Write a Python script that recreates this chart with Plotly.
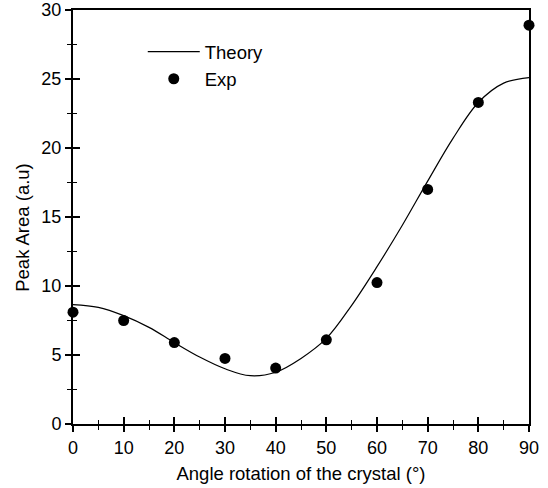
import plotly.graph_objects as go

# Experimental data
exp_angle = [0, 10, 20, 30, 40, 50, 60, 70, 80, 90]
exp_area = [8.1, 7.5, 5.9, 4.75, 4.05, 6.1, 10.25, 17.0, 23.3, 28.9]

# Theory curve
theory_angle = [0, 5, 10, 15, 20, 25, 30, 35, 40, 45, 50, 55, 60, 65, 70, 75, 80, 85, 90]
theory_area = [8.65, 8.45, 7.85, 7.0, 5.9, 4.85, 4.0, 3.5, 3.75, 4.75, 6.2, 8.6, 11.4, 14.4, 17.6, 20.7, 23.3, 24.7, 25.1]

x_ticks = [0, 10, 20, 30, 40, 50, 60, 70, 80, 90]
y_ticks = [0, 5, 10, 15, 20, 25, 30]

FONT = "Liberation Sans, Arial, sans-serif"

fig = go.Figure()
fig.add_trace(go.Scatter(x=theory_angle, y=theory_area, mode="lines", name="Theory",
                         line=dict(color="black", width=1.2, shape="spline", smoothing=1.0)))
fig.add_trace(go.Scatter(x=exp_angle, y=exp_area, mode="markers", name="Exp",
                         marker=dict(color="black", size=11), cliponaxis=False))

axis_common = dict(showgrid=False, zeroline=False, linecolor="black", linewidth=2,
                   tickcolor="black", tickwidth=1.5, ticklen=6, automargin=False,
                   tickfont=dict(family=FONT, size=18, color="black"))

fig.update_layout(
    width=548, height=488,
    margin=dict(l=73, r=19, t=10, b=64),
    paper_bgcolor="white", plot_bgcolor="white",
    font=dict(family=FONT, color="black"),
    showlegend=True,
    legend=dict(x=0.153, y=0.944, xanchor="left", yanchor="top",
                font=dict(family=FONT, size=18.5, color="black"),
                bgcolor="rgba(0,0,0,0)", tracegroupgap=2, itemwidth=52),
    xaxis=dict(range=[0, 90], tickvals=x_ticks, ticks="outside", mirror=True, showline=True,
               minor=dict(dtick=5, ticks="outside", ticklen=4, tickcolor="black", tickwidth=1.2),
               title=dict(text="Angle rotation of the crystal (°)", font=dict(family=FONT, size=18.5, color="black"), standoff=10),
               **axis_common),
    yaxis=dict(range=[0, 30], tickvals=y_ticks, ticks="outside", mirror=True, showline=True,
               minor=dict(dtick=2.5, ticks="outside", ticklen=4, tickcolor="black", tickwidth=1.2),
               **axis_common),
    xaxis2=dict(range=[0, 90], overlaying="x", anchor="y", side="bottom", tickvals=x_ticks,
                ticks="inside", ticklen=7, tickwidth=1.5, tickcolor="black", showticklabels=False,
                showgrid=False, zeroline=False, showline=False, automargin=False,
                minor=dict(dtick=5, ticks="inside", ticklen=4, tickcolor="black", tickwidth=1.2)),
    yaxis2=dict(range=[0, 30], overlaying="y", anchor="x", side="left", tickvals=y_ticks,
                ticks="inside", ticklen=7, tickwidth=1.5, tickcolor="black", showticklabels=False,
                showgrid=False, zeroline=False, showline=False, automargin=False,
                minor=dict(dtick=2.5, ticks="inside", ticklen=4, tickcolor="black", tickwidth=1.2)),
    annotations=[dict(text="Peak Area (a.u)", textangle=-90, xref="paper", yref="paper",
                      x=-0.11, y=0.476, xanchor="center", yanchor="middle", showarrow=False,
                      font=dict(family=FONT, size=18.5, color="black"))],
)
# invisible trace to activate the overlay axes
fig.add_trace(go.Scatter(x=[None], y=[None], xaxis="x2", yaxis="y2", showlegend=False, hoverinfo="skip"))

fig.write_html("out.html")
